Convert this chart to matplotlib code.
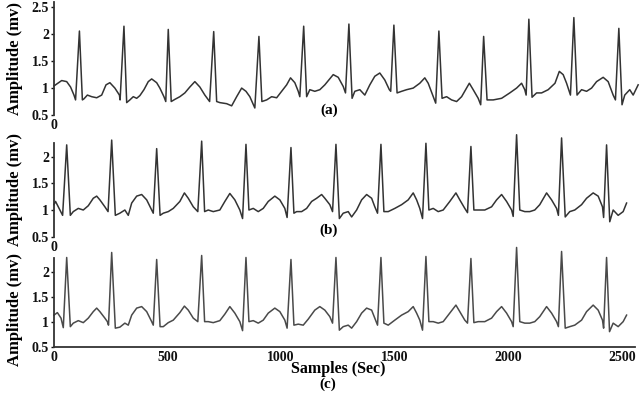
import matplotlib
matplotlib.use("Agg")
import matplotlib.pyplot as plt

plt.rcParams['font.family'] = ['Liberation Serif', 'DejaVu Serif']
plt.rcParams['font.weight'] = 'bold'

# (a) raw ECG trace, samples vs mV, one beat per line
ecg_a_x = [
    0, 34, 56, 73, 88, 95, 112, 125, 132, 147, 166, 188, 210, 229, 246, 268, 288, 291,
    308, 320, 334, 349, 364, 378, 396, 415, 430, 452, 466, 484, 492,
    503, 516, 532, 554, 576, 598, 620, 642, 664, 685,
    703, 716, 730, 760, 782, 804, 826, 845, 862, 884,
    902, 915, 936, 958, 980, 1002, 1024, 1041, 1060, 1075, 1082,
    1099, 1112, 1126, 1148, 1170, 1192, 1229, 1251, 1273, 1283,
    1298, 1312, 1324, 1346, 1368, 1390, 1412, 1434, 1456, 1476, 1482,
    1496, 1510, 1530, 1552, 1581, 1610, 1632, 1647, 1669, 1680,
    1694, 1708, 1728, 1750, 1772, 1794, 1816, 1828, 1845, 1867, 1878,
    1891, 1906, 1933, 1970, 2006, 2036, 2058, 2072, 2078,
    2090, 2104, 2124, 2146, 2175, 2205, 2224, 2241, 2256, 2273,
    2288, 2302, 2322, 2344, 2366, 2388, 2417, 2439, 2461, 2471,
    2486, 2500, 2512, 2534, 2549, 2571]
ecg_a_y = [
    1.04, 1.14, 1.12, 1.02, 0.87, 0.78, 2.06, 0.78, 0.80, 0.87, 0.84, 0.82, 0.87, 1.06, 1.10, 1.00, 0.87, 0.78,
    2.15, 0.73, 0.78, 0.84, 0.81, 0.86, 0.97, 1.12, 1.17, 1.10, 1.00, 0.84, 0.75,
    2.09, 0.75, 0.79, 0.84, 0.91, 1.02, 1.12, 1.02, 0.87, 0.75,
    2.05, 0.75, 0.73, 0.71, 0.67, 0.84, 1.00, 0.94, 0.84, 0.63,
    1.96, 0.75, 0.78, 0.84, 0.82, 0.94, 1.06, 1.19, 1.10, 0.94, 0.84,
    2.15, 0.84, 0.97, 0.94, 0.97, 1.06, 1.25, 1.20, 1.03, 0.91,
    2.19, 0.81, 0.94, 0.97, 0.87, 1.06, 1.22, 1.28, 1.15, 0.97, 0.94,
    2.17, 0.91, 0.94, 0.97, 1.00, 1.09, 1.19, 1.09, 0.84, 0.72,
    2.06, 0.81, 0.84, 0.78, 0.75, 0.84, 1.00, 1.09, 0.97, 0.81, 0.69,
    1.96, 0.78, 0.78, 0.81, 0.91, 1.00, 1.09, 0.97, 0.87,
    2.28, 0.83, 0.91, 0.91, 0.97, 1.09, 1.31, 1.25, 1.09, 0.87,
    2.31, 0.87, 0.97, 0.94, 1.00, 1.12, 1.20, 1.12, 0.87, 0.78,
    2.11, 0.69, 0.87, 0.97, 0.87, 1.06]

# (b) noisy trace
ecg_b_x = [
    0, 7, 38,
    56, 72, 85, 107, 129, 151, 173, 188, 202, 224, 238,
    254, 270, 290, 312, 327, 342, 364, 386, 408, 430, 437,
    452, 467, 481, 503, 525, 554, 574, 591, 613, 633,
    650, 663, 679, 701, 730, 752, 774, 796, 818, 830,
    845, 858, 877, 899, 921, 943, 972, 994, 1016, 1026,
    1043, 1056, 1068, 1090, 1112, 1134, 1156, 1178, 1192, 1214, 1226,
    1241, 1256, 1273, 1295, 1310, 1332, 1354, 1376, 1398, 1412, 1424,
    1439, 1452, 1471, 1500, 1530, 1559, 1581, 1596, 1610, 1622,
    1637, 1650, 1669, 1691, 1713, 1742, 1769, 1786, 1808, 1820,
    1835, 1848, 1867, 1896, 1926, 1948, 1970, 1992, 2014, 2021,
    2036, 2050, 2072, 2094, 2116, 2138, 2168, 2190, 2212, 2220,
    2234, 2250, 2270, 2292, 2322, 2344, 2373, 2395, 2414, 2419,
    2432, 2446, 2461, 2483, 2505, 2520]
ecg_b_y = [
    1.10, 1.16, 0.90,
    2.22, 0.90, 0.97, 1.03, 1.00, 1.08, 1.22, 1.26, 1.19, 1.06, 0.97,
    2.31, 0.90, 0.94, 1.00, 0.90, 1.13, 1.26, 1.29, 1.19, 1.00, 0.94,
    2.15, 0.90, 0.94, 0.97, 1.03, 1.16, 1.32, 1.22, 1.06, 0.97,
    2.29, 0.97, 1.00, 0.97, 1.00, 1.16, 1.31, 1.19, 1.00, 0.84,
    2.23, 1.00, 1.03, 0.97, 1.03, 1.16, 1.26, 1.19, 1.03, 0.86,
    2.17, 0.94, 0.97, 0.97, 1.03, 1.16, 1.22, 1.29, 1.22, 1.10, 0.97,
    2.23, 0.84, 0.94, 0.97, 0.87, 1.00, 1.19, 1.29, 1.22, 1.06, 0.94,
    2.23, 0.97, 0.97, 1.03, 1.10, 1.19, 1.32, 1.19, 1.03, 0.84,
    2.25, 1.00, 1.03, 0.97, 1.00, 1.16, 1.32, 1.19, 1.03, 0.95,
    2.19, 1.00, 1.00, 1.00, 1.06, 1.19, 1.29, 1.16, 1.00, 0.88,
    2.41, 1.00, 0.97, 0.97, 1.00, 1.10, 1.32, 1.19, 1.03, 0.90,
    2.35, 0.87, 0.97, 1.00, 1.10, 1.22, 1.32, 1.26, 1.06, 0.86,
    2.22, 0.78, 1.00, 0.90, 0.97, 1.13]

# (c) denoised trace
ecg_c_x = [
    0, 15, 31, 41,
    56, 72, 85, 107, 129, 151, 173, 188, 202, 224, 235, 240,
    254, 270, 290, 312, 327, 342, 364, 386, 408, 430, 437,
    452, 467, 481, 503, 525, 554, 574, 591, 613, 633,
    650, 663, 679, 701, 730, 752, 774, 796, 818, 830,
    845, 858, 877, 899, 921, 943, 972, 994, 1016, 1026,
    1043, 1056, 1075, 1097, 1119, 1148, 1170, 1192, 1214, 1226,
    1241, 1256, 1273, 1295, 1310, 1332, 1354, 1376, 1398, 1412, 1424,
    1439, 1452, 1471, 1500, 1530, 1559, 1581, 1596, 1610, 1622,
    1637, 1650, 1669, 1691, 1713, 1742, 1769, 1786, 1808, 1820,
    1835, 1848, 1867, 1896, 1926, 1948, 1970, 1992, 2014, 2021,
    2036, 2050, 2072, 2094, 2116, 2138, 2168, 2190, 2212, 2220,
    2234, 2250, 2270, 2292, 2322, 2344, 2373, 2395, 2414, 2419,
    2432, 2445, 2461, 2483, 2505, 2520]
ecg_c_y = [
    1.13, 1.18, 1.07, 0.88,
    2.28, 0.90, 0.97, 1.02, 0.98, 1.07, 1.20, 1.27, 1.20, 1.07, 1.00, 0.93,
    2.38, 0.87, 0.89, 0.97, 0.93, 1.13, 1.27, 1.30, 1.20, 1.00, 0.93,
    2.24, 0.90, 0.90, 0.98, 1.03, 1.18, 1.31, 1.23, 1.07, 1.00,
    2.32, 1.00, 1.00, 0.98, 1.02, 1.15, 1.30, 1.17, 1.00, 0.82,
    2.28, 1.00, 1.02, 0.97, 1.03, 1.17, 1.27, 1.20, 1.03, 0.87,
    2.24, 0.93, 0.95, 0.93, 1.05, 1.23, 1.30, 1.23, 1.10, 0.97,
    2.28, 0.83, 0.90, 0.93, 0.87, 1.00, 1.17, 1.27, 1.23, 1.07, 0.93,
    2.28, 0.97, 0.93, 1.03, 1.13, 1.20, 1.30, 1.17, 1.03, 0.83,
    2.30, 1.00, 1.00, 0.97, 1.00, 1.17, 1.33, 1.20, 1.03, 0.97,
    2.26, 0.98, 1.00, 1.00, 1.07, 1.20, 1.30, 1.17, 1.00, 0.90,
    2.48, 1.00, 0.97, 0.97, 1.00, 1.10, 1.30, 1.17, 1.00, 0.90,
    2.40, 0.87, 0.90, 0.93, 1.03, 1.20, 1.33, 1.23, 1.03, 0.87,
    2.28, 0.80, 0.97, 0.90, 1.00, 1.13]

y_ticks_a = [0.5, 1, 1.5, 2, 2.5]
y_ticks_bc = [0.5, 1, 1.5, 2]
x_ticks_c = [0, 500, 1000, 1500, 2000, 2500]

fig = plt.figure(figsize=(6.41, 3.98), dpi=100)

ax_a = fig.add_axes([0.0842, 0.7111, 0.9064, 0.2839])
ax_b = fig.add_axes([0.0842, 0.4053, 0.9064, 0.2347])
ax_c = fig.add_axes([0.0842, 0.1289, 0.9064, 0.2229])

panels = [
    (ax_a, ecg_a_x, ecg_a_y, 2.6, y_ticks_a, '#333333'),
    (ax_b, ecg_b_x, ecg_b_y, 2.25, y_ticks_bc, '#333333'),
    (ax_c, ecg_c_x, ecg_c_y, 2.27, y_ticks_bc, '#4a4a4a'),
]

for ax, xs, ys, ytop, yt, col in panels:
    ax.plot(xs, ys, color=col, lw=1.1, clip_on=False)
    ax.set_xlim(0, 2557)
    ax.set_ylim(0.5, ytop)
    ax.set_yticks(yt)
    ax.set_yticklabels([f'{t:g}' for t in yt])
    for s in ['top', 'right']:
        ax.spines[s].set_visible(False)
    ax.spines['left'].set_linewidth(1.3)
    ax.spines['left'].set_color('#333333')
    ax.tick_params(axis='y', direction='out', length=2.5, width=1, pad=1,
                   labelsize=10, colors='#111111')
    ax.tick_params(axis='x', length=0, pad=3, labelsize=10, colors='#111111')
    ax.set_ylabel('Amplitude (mv)', fontsize=12, fontweight='bold')
    ax.yaxis.set_label_coords(-0.054, 0.5)

for ax in (ax_a, ax_b):
    ax.spines['bottom'].set_visible(False)
    ax.set_xticks([0])
    ax.set_xticklabels(['0'])

ax_c.spines['bottom'].set_linewidth(1.3)
ax_c.spines['bottom'].set_color('#333333')
ax_c.set_xticks(x_ticks_c)
ax_c.set_xticklabels([str(t) for t in x_ticks_c])
ax_c.yaxis.set_label_coords(-0.054, 0.42)

fig.text(0.513, 0.724, '(a)', ha='center', va='center', fontsize=11, fontweight='bold')
fig.text(0.513, 0.422, '(b)', ha='center', va='center', fontsize=11, fontweight='bold')
fig.text(0.528, 0.073, 'Samples (Sec)', ha='center', va='center', fontsize=11.5, fontweight='bold')
fig.text(0.512, 0.035, '(c)', ha='center', va='center', fontsize=11, fontweight='bold')

fig.savefig('out.png', dpi=100)
